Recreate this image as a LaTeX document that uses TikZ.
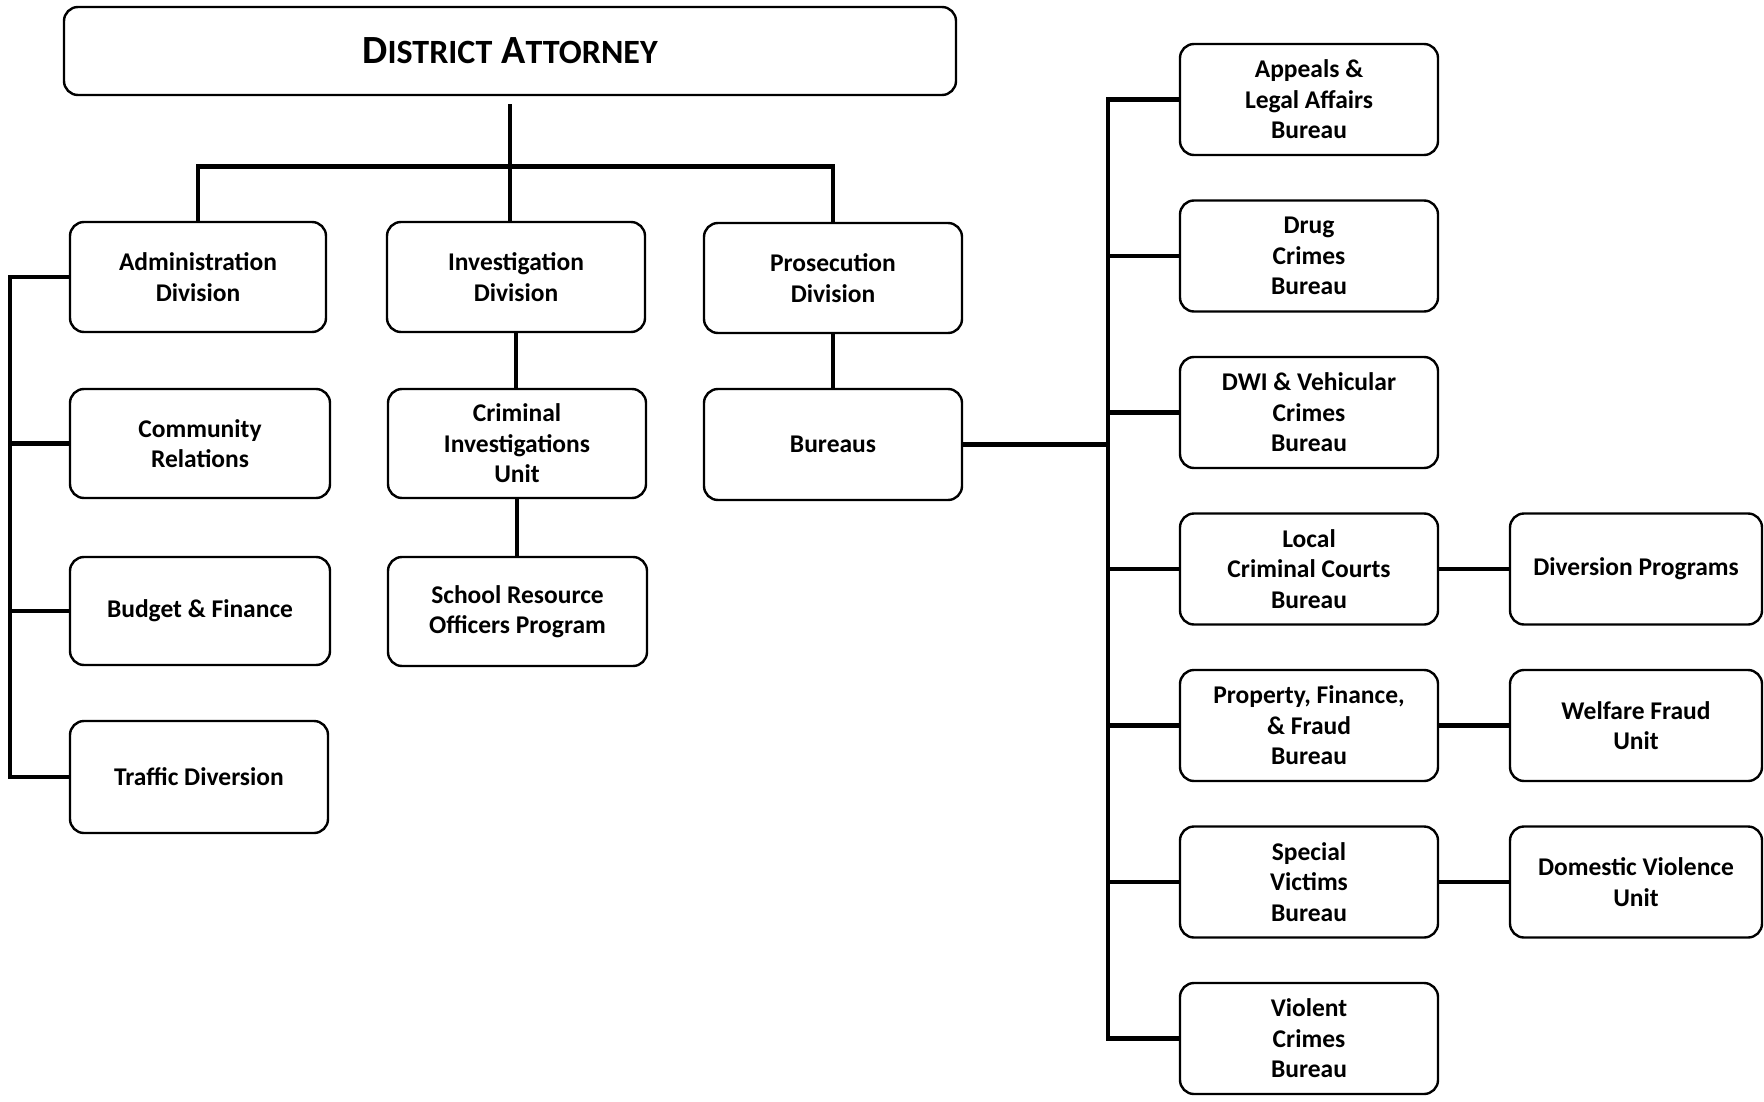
\documentclass[tikz,border=0pt]{standalone}
\usepackage{fontspec}
\setmainfont{Carlito}
\begin{document}
\begin{tikzpicture}[x=1pt,y=-1pt,
  box/.style={draw=black, line width=2.4pt, rounded corners=14pt, align=center,
    inner sep=0pt, font=\fontsize{25.5}{30.5}\selectfont\bfseries},
  conn/.style={draw=black, line width=4.6pt}]
\useasboundingbox (0,0) rectangle (1764,1102);
% top
\node[box, minimum width=892pt, minimum height=88pt] (da) at (510,51)
  {\fontsize{40}{44}\selectfont\bfseries D{\fontsize{34}{40}\selectfont ISTRICT} A{\fontsize{34}{40}\selectfont TTORNEY}};
% divisions
\node[box, minimum width=256pt, minimum height=110pt] (admin) at (198,277) {Administration\\Division};
\node[box, minimum width=258pt, minimum height=110pt] (inv) at (516,277) {Investigation\\Division};
\node[box, minimum width=258pt, minimum height=110pt] (pros) at (833,278) {Prosecution\\Division};
% second row
\node[box, minimum width=260pt, minimum height=109pt] (comm) at (200,443.5) {Community\\Relations};
\node[box, minimum width=258pt, minimum height=109pt] (ciu) at (517,443.5) {Criminal\\Investigations\\Unit};
\node[box, minimum width=258pt, minimum height=111pt] (bur) at (833,444.5) {Bureaus};
\node[box, minimum width=260pt, minimum height=108pt] (budget) at (200,611) {Budget \& Finance};
\node[box, minimum width=259pt, minimum height=109pt] (school) at (517.5,611.5) {School Resource\\Officers Program};
\node[box, minimum width=258pt, minimum height=112pt] (traffic) at (199,777) {Traffic Diversion};
% bureaus column
\node[box, minimum width=258pt, minimum height=111pt] (appeals) at (1309,99.5) {Appeals \&\\Legal Affairs\\Bureau};
\node[box, minimum width=258pt, minimum height=111pt] (drug) at (1309,256) {Drug\\Crimes\\Bureau};
\node[box, minimum width=258pt, minimum height=111pt] (dwi) at (1309,412.5) {DWI \& Vehicular\\Crimes\\Bureau};
\node[box, minimum width=258pt, minimum height=111pt] (local) at (1309,569) {Local\\Criminal Courts\\Bureau};
\node[box, minimum width=258pt, minimum height=111pt] (prop) at (1309,725.5) {Property, Finance,\\\& Fraud\\Bureau};
\node[box, minimum width=258pt, minimum height=111pt] (special) at (1309,882) {Special\\Victims\\Bureau};
\node[box, minimum width=258pt, minimum height=111pt] (violent) at (1309,1038.5) {Violent\\Crimes\\Bureau};
% units
\node[box, minimum width=252pt, minimum height=111pt] (div) at (1636,569) {Diversion Programs};
\node[box, minimum width=252pt, minimum height=111pt] (welf) at (1636,725.5) {Welfare Fraud\\Unit};
\node[box, minimum width=252pt, minimum height=111pt] (dom) at (1636,882) {Domestic Violence\\Unit};
% connectors
\coordinate (L) at (10,0);
\coordinate (R) at (1108,0);
\draw[conn, shorten <=8pt] (da.south) -- (da.south |- inv.north);
\draw[conn] (admin.north) -- ++(0,-54) -| (pros.north);
\draw[conn] (inv.south) -- (inv.south |- ciu.north);
\draw[conn] (ciu.south) -- (ciu.south |- school.north);
\draw[conn] (pros.south) -- (bur.north);
\draw[conn] (admin.west) -- (admin.west -| L) -- (traffic.west -| L) -- (traffic.west);
\draw[conn] (comm.west) -- (comm.west -| L);
\draw[conn] (budget.west) -- (budget.west -| L);
\draw[conn] (appeals.west) -- (appeals.west -| R) -- (violent.west -| R) -- (violent.west);
\draw[conn] (bur.east) -- (bur.east -| R);
\foreach \n in {drug,dwi,local,prop,special}{\draw[conn] (\n.west) -- (\n.west -| R);}
\draw[conn] (local.east) -- (div.west);
\draw[conn] (prop.east) -- (welf.west);
\draw[conn] (special.east) -- (dom.west);
\end{tikzpicture}
\end{document}
